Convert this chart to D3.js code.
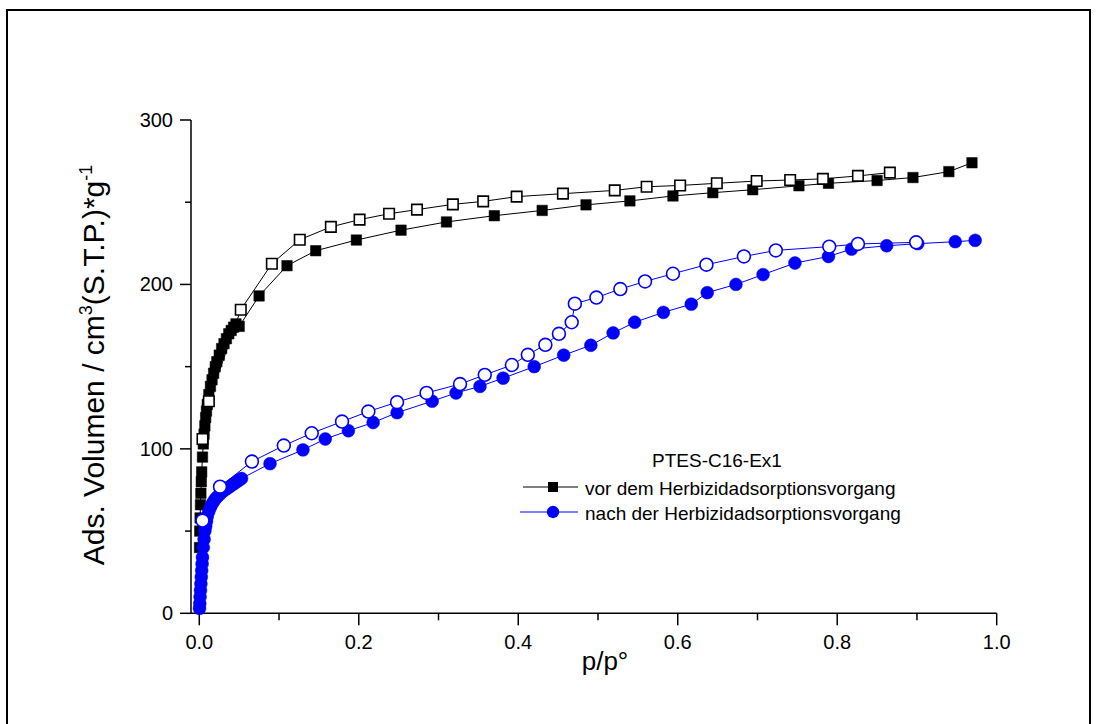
<!DOCTYPE html>
<html><head><meta charset="utf-8">
<script src="https://cdn.jsdelivr.net/npm/d3@7"></script>
<style>body{margin:0;background:#fff}svg{display:block}text{font-family:"Liberation Sans",Arial,sans-serif}</style>
</head><body><svg id="c" width="1097" height="724"></svg>
<script>
// Data (p/p0, volume cm3/g STP)
const blackAdsP = [0.0003,0.0006,0.001,0.0015,0.002,0.0025,0.003,0.004,0.005,0.006,0.007,0.008,0.009,0.010,0.012,0.014,0.016,0.018,0.020,0.022,0.025,0.028,0.031,0.034,0.037,0.040,0.043,0.046,0.050,0.075,0.110,0.146,0.197,0.253,0.310,0.370,0.430,0.485,0.540,0.594,0.644,0.694,0.752,0.789,0.850,0.895,0.940,0.969];
const blackAdsV = [40,50,58,66,73,80,86,95,103,109,114,119,123,127,133,138,142,146,150,153,157,161,164,167,170,172,174,176,174.5,193,211.4,220.5,227,233,238,241.8,245,248.4,250.8,253.8,255.8,257.6,260,261.5,263.2,265,268.6,274];
const blackDesP = [0.866,0.826,0.782,0.741,0.699,0.649,0.603,0.561,0.521,0.456,0.398,0.356,0.318,0.273,0.238,0.201,0.165,0.126,0.091,0.052,0.012,0.004];
const blackDesV = [268,266,264.2,263.5,262.9,261.5,260.2,259.4,257.2,255.2,253.4,250.5,248.7,245.5,243,239.4,235,227.2,212.6,184.6,129,106];
const blueAdsP = [0.0003,0.0006,0.001,0.0015,0.002,0.0025,0.003,0.0035,0.004,0.005,0.006,0.007,0.008,0.009,0.010,0.012,0.014,0.016,0.018,0.020,0.023,0.026,0.029,0.032,0.035,0.038,0.041,0.044,0.047,0.050,0.053,0.0887,0.130,0.158,0.187,0.218,0.248,0.292,0.322,0.352,0.381,0.420,0.457,0.491,0.519,0.546,0.582,0.617,0.637,0.673,0.707,0.747,0.789,0.818,0.862,0.901,0.948,0.973];
const blueAdsV = [3,6,10,14,18,22,26,30,34,40,45,50,53,56,59,62,64.5,66.5,68,69.5,71,72.5,74,75,76,77,78,79,80,81,82,91,99.4,106,111,116,122,129,134,138,143,150,157,163,170.5,177,183,188,195,200,206,213,217,221.5,223.5,224.8,226,226.8];
const blueDesP = [0.899,0.826,0.790,0.723,0.683,0.636,0.594,0.559,0.528,0.498,0.471,0.467,0.451,0.434,0.412,0.392,0.358,0.327,0.285,0.248,0.212,0.179,0.141,0.106,0.066,0.026,0.004];
const blueDesV = [225.6,224.6,223,220.7,217,212,206.5,201.8,197.2,192,188.3,177,170,163.3,157.2,151,145,139.4,134,128.4,122.7,116.6,109.5,102,92.3,77,56.4];
const xTicks = [0,0.2,0.4,0.6,0.8,1.0];
const xMinor = [0.1,0.3,0.5,0.7,0.9];
const yTicks = [0,100,200,300];
const yMinor = [50,150,250];
const legendTitle = "PTES-C16-Ex1";
const legendLabels = ["vor dem Herbizidadsorptionsvorgang","nach der Herbizidadsorptionsvorgang"];

const svg = d3.select("#c");
svg.append("rect").attr("x",7).attr("y",10).attr("width",1083).attr("height",730)
  .attr("fill","none").attr("stroke","#000").attr("stroke-width",2);

const x = d3.scaleLinear().domain([-0.0104,1.0]).range([191,996.7]);
const y = d3.scaleLinear().domain([0,300]).range([613.3,120]);

// axes
const gx = svg.append("g").attr("transform","translate(0,613.3)");
gx.append("line").attr("x1",x.range()[0]).attr("x2",x.range()[1]).attr("stroke","#000").attr("stroke-width",1.5);
gx.selectAll(".maj").data(xTicks).join("line").attr("x1",d=>x(d)).attr("x2",d=>x(d)).attr("y1",0).attr("y2",12).attr("stroke","#000").attr("stroke-width",1.5);
gx.selectAll(".min").data(xMinor).join("line").attr("class","min").attr("x1",d=>x(d)).attr("x2",d=>x(d)).attr("y1",0).attr("y2",7).attr("stroke","#000").attr("stroke-width",1.5);
gx.selectAll("text").data(xTicks).join("text").attr("x",d=>x(d)).attr("y",36).attr("text-anchor","middle")
  .attr("font-size",20).text(d=>d3.format(".1f")(d));

const gy = svg.append("g").attr("transform","translate(191,0)");
gy.append("line").attr("y1",y(0)).attr("y2",y(300)).attr("stroke","#000").attr("stroke-width",1.5);
gy.selectAll(".maj").data(yTicks).join("line").attr("y1",d=>y(d)).attr("y2",d=>y(d)).attr("x1",0).attr("x2",-11).attr("stroke","#000").attr("stroke-width",1.5);
gy.selectAll(".min").data(yMinor).join("line").attr("class","min").attr("y1",d=>y(d)).attr("y2",d=>y(d)).attr("x1",0).attr("x2",-6).attr("stroke","#000").attr("stroke-width",1.5);
gy.selectAll("text").data(yTicks).join("text").attr("x",-18).attr("y",d=>y(d)+7).attr("text-anchor","end")
  .attr("font-size",20).text(d=>d);

svg.append("text").attr("x",605).attr("y",670).attr("text-anchor","middle").attr("font-size",26).text("p/p°");
const yt = svg.append("text").attr("transform","translate(104,365) rotate(-90)").attr("text-anchor","middle").attr("font-size",30);
yt.append("tspan").text("Ads. Volumen / cm");
yt.append("tspan").attr("font-size",18).attr("dy",-12).text("3");
yt.append("tspan").attr("dy",12).text("(S.T.P.)*g");
yt.append("tspan").attr("font-size",18).attr("dy",-12).text("-1");

function series(P,V,color,shape,filled){
  const pts = P.map((p,i)=>[p,V[i]]);
  const line = d3.line().x(d=>x(d[0])).y(d=>y(d[1]));
  svg.append("path").attr("d",line(pts)).attr("fill","none").attr("stroke",color).attr("stroke-width",1);
  const sym = d3.symbol().type(shape==="sq"?d3.symbolSquare:d3.symbolCircle).size(shape==="sq"?110:130);
  svg.append("g").selectAll("path").data(pts).join("path")
    .attr("transform",d=>`translate(${x(d[0])},${y(d[1])})`).attr("d",sym)
    .attr("fill",filled?color:"#fff").attr("stroke",color).attr("stroke-width",filled?0.5:1.6);
}
series(blackAdsP,blackAdsV,"#000","sq",true);
series(blackDesP,blackDesV,"#000","sq",false);
series(blueAdsP,blueAdsV,"#0000ff","ci",true);
series(blueDesP,blueDesV,"#0000ff","ci",false);

// legend
svg.append("text").attr("x",717).attr("y",467).attr("text-anchor","middle").attr("font-size",19).text(legendTitle);
const lg = [{c:"#000",s:d3.symbolSquare,sz:100},{c:"#0000ff",s:d3.symbolCircle,sz:120}];
lg.forEach((L,i)=>{
  const yy = 487+i*25;
  svg.append("line").attr("x1",i?520:523).attr("x2",578).attr("y1",yy).attr("y2",yy).attr("stroke",L.c).attr("stroke-width",1);
  svg.append("path").attr("transform",`translate(553,${yy})`).attr("d",d3.symbol().type(L.s).size(L.sz)()).attr("fill",L.c);
  svg.append("text").attr("x",585).attr("y",yy+8).attr("font-size",19).text(legendLabels[i]);
});
</script></body></html>
